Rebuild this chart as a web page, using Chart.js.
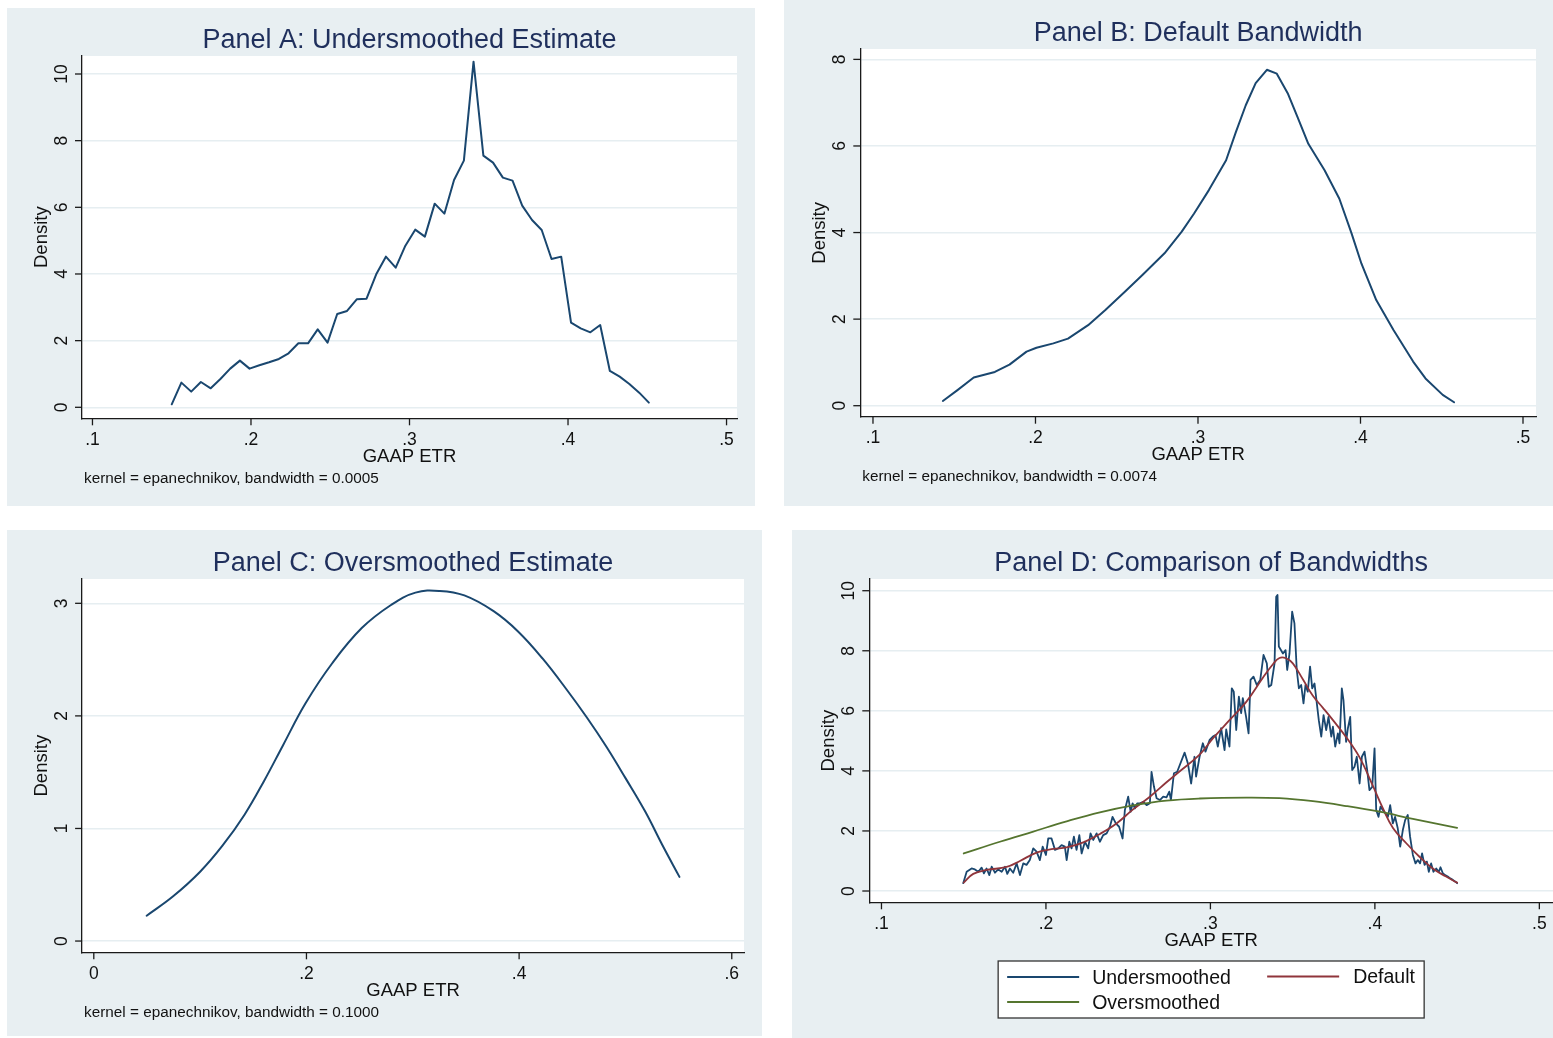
<!DOCTYPE html>
<html>
<head>
<meta charset="utf-8">
<title>GAAP ETR kernel density estimates</title>
<script src="https://cdn.jsdelivr.net/npm/chart.js@4.4.1/dist/chart.umd.min.js"></script>
<style>
  html, body { margin: 0; padding: 0; background: #ffffff; width: 1553px; height: 1038px; overflow: hidden; }
  .panel { position: absolute; background: #e8eff2; }
  canvas { display: block; }
</style>
</head>
<body>
<div class="panel" style="left:7px;top:8px;width:748px;height:498px"><canvas id="panelA" width="748" height="498"></canvas></div>
<div class="panel" style="left:784px;top:0px;width:769px;height:506px"><canvas id="panelB" width="769" height="506"></canvas></div>
<div class="panel" style="left:7px;top:530px;width:755px;height:506px"><canvas id="panelC" width="755" height="506"></canvas></div>
<div class="panel" style="left:792px;top:530px;width:761px;height:508px"><canvas id="panelD" width="761" height="508"></canvas></div>
<script>
// ---- Panel A: undersmoothed estimate (bandwidth 0.0005) ----
const underX = [0.1500,0.1561,0.1623,0.1684,0.1746,0.1807,0.1869,0.1930,0.1991,0.2053,0.2114,0.2176,0.2237,0.2299,0.2360,0.2421,0.2483,0.2544,0.2606,0.2667,0.2729,0.2790,0.2851,0.2913,0.2974,0.3036,0.3097,0.3159,0.3220,0.3281,0.3343,0.3404,0.3466,0.3527,0.3589,0.3650,0.3711,0.3773,0.3834,0.3896,0.3957,0.4019,0.4080,0.4141,0.4203,0.4264,0.4326,0.4387,0.4449,0.4510];
const underY = [0.09,0.74,0.47,0.76,0.57,0.85,1.16,1.40,1.16,1.26,1.35,1.45,1.62,1.92,1.92,2.34,1.94,2.80,2.89,3.24,3.26,3.99,4.52,4.19,4.85,5.33,5.12,6.11,5.81,6.82,7.40,10.37,7.55,7.34,6.89,6.80,6.05,5.62,5.32,4.45,4.52,2.54,2.37,2.25,2.47,1.09,0.92,0.70,0.44,0.14];

// ---- Panel B: default bandwidth (0.0074) ----
const defaultX = [0.143,0.152,0.162,0.175,0.184,0.1945,0.2006,0.211,0.220,0.2324,0.243,0.255,0.2658,0.2794,0.290,0.2976,0.3067,0.3173,0.3233,0.3294,0.3355,0.3424,0.3485,0.3552,0.3612,0.3679,0.3779,0.387,0.3945,0.4006,0.4097,0.4203,0.4324,0.44,0.4506,0.4576];
const defaultY = [0.11,0.36,0.65,0.78,0.95,1.25,1.34,1.44,1.55,1.86,2.21,2.63,3.02,3.52,4.02,4.44,4.98,5.67,6.32,6.94,7.45,7.76,7.67,7.22,6.67,6.05,5.44,4.78,3.98,3.28,2.44,1.75,1.02,0.63,0.25,0.08];

// ---- Panel C: oversmoothed estimate (bandwidth 0.1) ----
const overX = [0.0497,0.0749,0.100,0.121,0.1416,0.160,0.178,0.199,0.2244,0.252,0.2795,0.3025,0.3255,0.3485,0.376,0.399,0.422,0.445,0.4634,0.4818,0.5002,0.5186,0.5347,0.5508];
const overY = [0.225,0.40,0.616,0.847,1.12,1.42,1.74,2.11,2.47,2.78,2.985,3.095,3.11,3.07,2.93,2.75,2.51,2.23,1.99,1.73,1.445,1.15,0.853,0.57];

// ---- Panel D: the three bandwidths on a common grid ----
const cmpUnderX = [0.1497,0.1518,0.1548,0.1568,0.1589,0.1609,0.1623,0.1639,0.1656,0.1670,0.1690,0.1710,0.1731,0.1751,0.1765,0.1781,0.1801,0.1822,0.1842,0.1862,0.1882,0.1902,0.1923,0.1943,0.1963,0.1980,0.2000,0.2014,0.2034,0.2055,0.2075,0.2095,0.2115,0.2126,0.2142,0.2156,0.2170,0.2186,0.2203,0.2217,0.2237,0.2257,0.2271,0.2288,0.2308,0.2328,0.2348,0.2369,0.2389,0.2405,0.2425,0.2445,0.2466,0.2480,0.2500,0.2515,0.2527,0.2541,0.2555,0.2571,0.2592,0.2612,0.2632,0.2642,0.2657,0.2673,0.2693,0.2713,0.2733,0.2750,0.2760,0.2778,0.2798,
  0.2843,0.2863,0.2883,0.2903,0.2913,0.2934,0.2954,0.2970,0.2995,0.3015,0.3031,0.3045,0.3065,0.3086,0.3096,0.3116,0.3130,0.3142,0.3157,0.3173,0.3187,0.3197,0.3217,0.3232,0.3244,0.3262,0.3282,0.3303,0.3323,0.3343,0.3355,0.3370,0.3390,0.3400,0.3408,0.3416,0.3441,0.3457,0.3467,0.3481,0.3497,0.3511,0.3525,0.3538,0.3552,0.3566,0.3578,0.3592,0.3606,0.3619,0.3633,0.3647,0.3659,0.3674,0.3688,0.3704,0.3718,0.3735,0.3745,0.3759,0.3775,0.3785,0.3799,0.3809,0.3825,0.3836,0.3850,0.3862,0.3876,0.3890,0.3907,0.3921,0.3937,0.3953,0.3967,0.3984,0.3998,0.4008,0.4022,0.4034,0.4048,0.4064,0.4079,0.4093,0.4109,0.4123,0.4139,0.4154,0.4170,0.4184,0.4200,0.4214,0.4231,0.4247,0.4261,0.4275,0.4287,0.4302,0.4316,0.4328,0.4342,0.4356,0.4373,0.4389,0.4399,0.4413,0.4427,0.4443,0.4458,0.4474,0.4490,0.4500];
const cmpUnderY = [0.26,0.64,0.75,0.72,0.64,0.78,0.59,0.75,0.53,0.81,0.61,0.72,0.64,0.81,0.57,0.75,0.61,0.92,0.53,0.92,0.87,1.03,1.42,1.31,1.03,1.48,1.20,1.75,1.75,1.37,1.42,1.53,1.48,1.03,1.64,1.42,1.81,1.37,1.86,1.25,1.64,1.42,1.92,1.70,1.92,1.64,1.86,1.92,2.14,2.47,2.25,2.14,1.75,2.70,3.14,2.64,2.92,2.75,2.92,2.92,2.97,2.86,2.92,3.97,3.47,3.09,3.03,3.14,3.12,3.31,3.03,3.92,3.97,
  4.61,4.25,3.58,4.47,3.81,4.47,4.92,4.64,5.03,5.14,5.19,4.81,5.42,4.69,5.38,4.81,6.75,6.64,5.36,6.47,5.92,6.42,5.80,5.25,7.03,7.14,6.86,7.03,7.86,7.58,6.80,6.86,7.58,9.80,9.86,8.14,7.91,8.02,7.36,7.91,9.30,8.91,7.36,6.75,6.86,6.25,6.86,6.64,7.47,6.75,6.91,6.25,5.69,5.14,5.86,5.36,5.80,5.14,5.47,4.81,5.25,4.92,6.75,6.36,4.97,5.42,5.80,4.03,4.14,4.47,3.58,4.47,4.64,4.03,3.36,3.47,4.75,2.70,2.47,2.81,2.70,2.59,2.47,2.86,2.25,2.47,2.09,1.48,2.03,2.36,2.53,1.81,1.20,0.92,1.03,0.92,1.25,0.87,0.98,0.64,0.92,0.64,0.75,0.64,0.79,0.59,0.53,0.48,0.42,0.37,0.31,0.26];
const cmpDefaultX = [0.1500,0.1558,0.1639,0.1761,0.1842,0.1943,0.2045,0.2126,0.2227,0.2328,0.2429,0.2530,0.2632,0.2733,0.2812,0.2936,0.3015,0.3116,0.3218,0.3319,0.3380,0.3420,0.3460,0.3501,0.3562,0.3623,0.3684,0.3745,0.3826,0.3907,0.3988,0.4049,0.4110,0.4191,0.4271,0.4352,0.4433,0.4500];
const cmpDefaultY = [0.28,0.57,0.70,0.80,1.00,1.28,1.40,1.45,1.62,1.90,2.25,2.72,3.14,3.62,3.98,4.55,5.08,5.69,6.30,7.10,7.55,7.76,7.75,7.58,7.05,6.50,6.10,5.69,5.12,4.45,3.50,2.75,2.10,1.59,1.14,0.75,0.48,0.28];
const cmpOverX = [0.1500,0.1720,0.1923,0.2126,0.2328,0.2530,0.2733,0.2936,0.3218,0.3420,0.3623,0.3826,0.4028,0.4231,0.4500];
const cmpOverY = [1.25,1.64,1.98,2.32,2.62,2.85,3.01,3.08,3.11,3.09,2.99,2.83,2.64,2.40,2.10];

// ---- axis ticks ----
const etrTicks = [0.1, 0.2, 0.3, 0.4, 0.5];
const etrTickLabels = ['.1', '.2', '.3', '.4', '.5'];
const etrWideTicks = [0, 0.2, 0.4, 0.6];
const etrWideTickLabels = ['0', '.2', '.4', '.6'];
const densityTicksTo10 = [0, 2, 4, 6, 8, 10];
const densityTicksTo8 = [0, 2, 4, 6, 8];
const densityTicksTo3 = [0, 1, 2, 3];

// ---- series labels ----
const seriesNames = ['Undersmoothed', 'Default', 'Oversmoothed'];

const NAVY = '#1a476f', MAROON = '#90353b', GREEN = '#55752f';
const FONT = '"Liberation Sans", Arial, Helvetica, sans-serif';
const TITLE_COLOR = '#1f2f5c';
const AXIS_COLOR = '#1a1a1a';
const GRID_COLOR = '#e6eef1';

const toPoints = (xs, ys) => xs.map((x, i) => ({ x: x, y: ys[i] }));

// Draws the Stata-style frame: white plot region, ticks, labels, titles, note, legend
const stataFrame = {
  id: 'stataFrame',
  beforeDraw(chart) {
    const { ctx, chartArea: a } = chart;
    ctx.save();
    ctx.fillStyle = '#ffffff';
    ctx.fillRect(a.left, a.top, a.right - a.left, a.bottom - a.top);
    ctx.restore();
  },
  afterDraw(chart, args, o) {
    const { ctx, chartArea: a } = chart;
    const xs = chart.scales.x, ys = chart.scales.y;
    const cx = (a.left + a.right) / 2, cy = (a.top + a.bottom) / 2;
    ctx.save();
    // title
    ctx.fillStyle = TITLE_COLOR;
    ctx.font = '27px ' + FONT;
    ctx.textAlign = 'center';
    ctx.textBaseline = 'alphabetic';
    ctx.fillText(o.title, cx, a.top - 8.5);

    ctx.strokeStyle = AXIS_COLOR;
    ctx.lineWidth = 1.3;
    ctx.fillStyle = '#111111';
    ctx.font = '17.5px ' + FONT;
    // y ticks, labels rotated
    o.yTicks.forEach((v, i) => {
      const py = ys.getPixelForValue(v);
      ctx.beginPath(); ctx.moveTo(a.left, py); ctx.lineTo(a.left - 7, py); ctx.stroke();
      ctx.save();
      ctx.translate(a.left - 15.5, py);
      ctx.rotate(-Math.PI / 2);
      ctx.textAlign = 'center';
      ctx.fillText(o.yLabels[i], 0, 0);
      ctx.restore();
    });
    // x ticks
    o.xTicks.forEach((v, i) => {
      const px = xs.getPixelForValue(v);
      ctx.beginPath(); ctx.moveTo(px, a.bottom); ctx.lineTo(px, a.bottom + 7); ctx.stroke();
      ctx.textAlign = 'center';
      ctx.fillText(o.xLabels[i], px, a.bottom + 26.7);
    });
    // axis titles
    ctx.font = '18.5px ' + FONT;
    ctx.textAlign = 'center';
    ctx.fillText(o.xTitle, cx, a.bottom + 43.4);
    ctx.save();
    ctx.translate(a.left - 35.5, cy);
    ctx.rotate(-Math.PI / 2);
    ctx.fillText(o.yTitle, 0, 0);
    ctx.restore();
    // note
    if (o.note) {
      ctx.font = '15.3px ' + FONT;
      ctx.textAlign = 'left';
      ctx.fillText(o.note, a.left + 2, a.bottom + 64.5);
    }
    // legend
    if (o.legend) {
      const w = 426, h = 57;
      const lx = cx - w / 2, ly = a.bottom + 58.7;
      ctx.fillStyle = '#ffffff';
      ctx.fillRect(lx, ly, w, h);
      ctx.strokeStyle = '#333333';
      ctx.lineWidth = 1.3;
      ctx.strokeRect(lx, ly, w, h);
      const slots = [
        { kx: 9, tx: 94, ry: 16 },
        { kx: 269, tx: 355, ry: 15.5 },
        { kx: 9, tx: 94, ry: 41 }
      ];
      ctx.font = '19.5px ' + FONT;
      ctx.textAlign = 'left';
      chart.data.datasets.forEach((ds, i) => {
        const s = slots[i];
        ctx.strokeStyle = ds.borderColor;
        ctx.lineWidth = 1.8;
        ctx.beginPath(); ctx.moveTo(lx + s.kx, ly + s.ry); ctx.lineTo(lx + s.kx + 72, ly + s.ry); ctx.stroke();
        ctx.fillStyle = '#111111';
        ctx.fillText(ds.label, lx + s.tx, ly + s.ry + 6.8);
      });
    }
    ctx.restore();
  }
};

function makePanel(canvasId, cfg) {
  const setTicks = (vals) => (scale) => { scale.ticks = vals.map(v => ({ value: v })); };
  return new Chart(document.getElementById(canvasId), {
    type: 'line',
    data: { datasets: cfg.datasets },
    options: {
      responsive: false,
      animation: false,
      devicePixelRatio: 1,
      layout: { padding: cfg.padding },
      elements: { point: { radius: 0 }, line: { borderJoinStyle: 'round', borderCapStyle: 'round' } },
      scales: {
        x: {
          type: 'linear', position: 'bottom', min: cfg.xMin, max: cfg.xMax,
          afterBuildTicks: setTicks(cfg.xTicks),
          grid: { display: true, drawOnChartArea: false, drawTicks: false },
          border: { display: true, color: AXIS_COLOR, width: 1.3 },
          ticks: { display: false },
          title: { display: false }
        },
        y: {
          type: 'linear', position: 'left', min: cfg.yMin, max: cfg.yMax,
          afterBuildTicks: setTicks(cfg.yTicks),
          grid: { display: true, drawOnChartArea: true, drawTicks: false, color: GRID_COLOR, lineWidth: 1.5 },
          border: { display: true, color: AXIS_COLOR, width: 1.3 },
          ticks: { display: false },
          title: { display: false }
        }
      },
      plugins: {
        legend: { display: false },
        title: { display: false },
        tooltip: { enabled: false },
        stataFrame: {
          title: cfg.title, xTitle: 'GAAP ETR', yTitle: 'Density', note: cfg.note,
          xTicks: cfg.xTicks, xLabels: cfg.xLabels, yTicks: cfg.yTicks, yLabels: cfg.yLabels,
          legend: !!cfg.legend
        }
      }
    },
    plugins: [stataFrame]
  });
}

Chart.register(stataFrame);

makePanel('panelA', {
  title: 'Panel A: Undersmoothed Estimate',
  note: 'kernel = epanechnikov, bandwidth = 0.0005',
  padding: { left: 75, top: 48, right: 18, bottom: 87.7 },
  xMin: 0.0934, xMax: 0.5066, yMin: -0.33, yMax: 10.54,
  xTicks: etrTicks, xLabels: etrTickLabels,
  yTicks: densityTicksTo10, yLabels: densityTicksTo10.map(String),
  datasets: [{ label: seriesNames[0], data: toPoints(underX, underY), borderColor: NAVY, borderWidth: 2, tension: 0, fill: false }]
});

makePanel('panelB', {
  title: 'Panel B: Default Bandwidth',
  note: 'kernel = epanechnikov, bandwidth = 0.0074',
  padding: { left: 76.3, top: 49, right: 17, bottom: 89.3 },
  xMin: 0.0922, xMax: 0.508, yMin: -0.254, yMax: 8.24,
  xTicks: etrTicks, xLabels: etrTickLabels,
  yTicks: densityTicksTo8, yLabels: densityTicksTo8.map(String),
  datasets: [{ label: seriesNames[1], data: toPoints(defaultX, defaultY), borderColor: NAVY, borderWidth: 2, tension: 0, fill: false }]
});

makePanel('panelC', {
  title: 'Panel C: Oversmoothed Estimate',
  note: 'kernel = epanechnikov, bandwidth = 0.1000',
  padding: { left: 75.1, top: 49, right: 18, bottom: 83.7 },
  xMin: -0.011, xMax: 0.6115, yMin: -0.10, yMax: 3.216,
  xTicks: etrWideTicks, xLabels: etrWideTickLabels,
  yTicks: densityTicksTo3, yLabels: densityTicksTo3.map(String),
  datasets: [{ label: seriesNames[2], data: toPoints(overX, overY), borderColor: NAVY, borderWidth: 2, tension: 0.4, fill: false }]
});

makePanel('panelD', {
  title: 'Panel D: Comparison of Bandwidths',
  note: null,
  legend: true,
  padding: { left: 77.3, top: 49, right: 0, bottom: 135.7 },
  xMin: 0.0926, xMax: 0.5083, yMin: -0.376, yMax: 10.39,
  xTicks: etrTicks, xLabels: etrTickLabels,
  yTicks: densityTicksTo10, yLabels: densityTicksTo10.map(String),
  datasets: [
    { label: seriesNames[0], data: toPoints(cmpUnderX, cmpUnderY), borderColor: NAVY, borderWidth: 1.8, tension: 0, fill: false, order: 3 },
    { label: seriesNames[1], data: toPoints(cmpDefaultX, cmpDefaultY), borderColor: MAROON, borderWidth: 1.8, tension: 0.4, fill: false, order: 2 },
    { label: seriesNames[2], data: toPoints(cmpOverX, cmpOverY), borderColor: GREEN, borderWidth: 1.8, tension: 0.4, fill: false, order: 1 }
  ]
});
</script>
</body>
</html>
